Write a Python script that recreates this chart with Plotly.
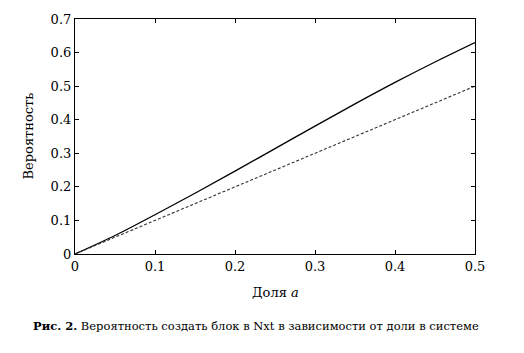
import plotly.graph_objects as go

share = [0.0, 0.05, 0.1, 0.15, 0.2, 0.25, 0.3, 0.35, 0.4, 0.45, 0.5]
prob_nxt = [0.0, 0.055, 0.117, 0.181, 0.247, 0.314, 0.381, 0.447, 0.511, 0.572, 0.630]
prob_fair = [0.0, 0.05, 0.1, 0.15, 0.2, 0.25, 0.3, 0.35, 0.4, 0.45, 0.5]

xticks = [0, 0.1, 0.2, 0.3, 0.4, 0.5]
xticklabels = ["0", "0.1", "0.2", "0.3", "0.4", "0.5"]
yticks = [0, 0.1, 0.2, 0.3, 0.4, 0.5, 0.6, 0.7]
yticklabels = ["0", "0.1", "0.2", "0.3", "0.4", "0.5", "0.6", "0.7"]

SERIF = "DejaVu Serif"

fig = go.Figure()
fig.add_trace(go.Scatter(x=share, y=prob_nxt, mode="lines",
                         line=dict(color="black", width=1.3, shape="spline"),
                         showlegend=False))
fig.add_trace(go.Scatter(x=share, y=prob_fair, mode="lines",
                         line=dict(color="#333333", width=1.1, dash="3px,2px"),
                         showlegend=False))

axis_common = dict(showline=True, linecolor="black", linewidth=1.2, mirror="ticks",
                   ticks="inside", ticklen=4, tickcolor="black", showgrid=False,
                   zeroline=False, tickfont=dict(family=SERIF, size=13, color="black"))

fig.update_xaxes(range=[0, 0.5], tickvals=xticks, ticktext=xticklabels, **axis_common)
fig.update_yaxes(range=[0, 0.7], tickvals=yticks, ticktext=yticklabels, **axis_common)

fig.update_layout(
    width=524, height=353,
    margin=dict(l=75, r=49, t=15, b=99),
    plot_bgcolor="white", paper_bgcolor="white",
    annotations=[
        dict(text="Доля <i>a</i>", x=0.5, y=-(293 - 254) / 239, xref="paper", yref="paper",
             showarrow=False, font=dict(family=SERIF, size=13, color="black"),
             xanchor="center", yanchor="middle"),
        dict(text="Вероятность", x=(28 - 75) / 400, y=0.5, xref="paper", yref="paper",
             showarrow=False, textangle=-90,
             font=dict(family=SERIF, size=13, color="black"),
             xanchor="center", yanchor="middle"),
        dict(text="<b>Рис. 2.</b> Вероятность создать блок в Nxt в зависимости от доли в системе",
             x=(256 - 75) / 400, y=-(327 - 254) / 239, xref="paper", yref="paper",
             showarrow=False, font=dict(family="DejaVu Serif", size=11.5, color="black"),
             xanchor="center", yanchor="middle"),
    ],
)

fig.write_html("out.html")
